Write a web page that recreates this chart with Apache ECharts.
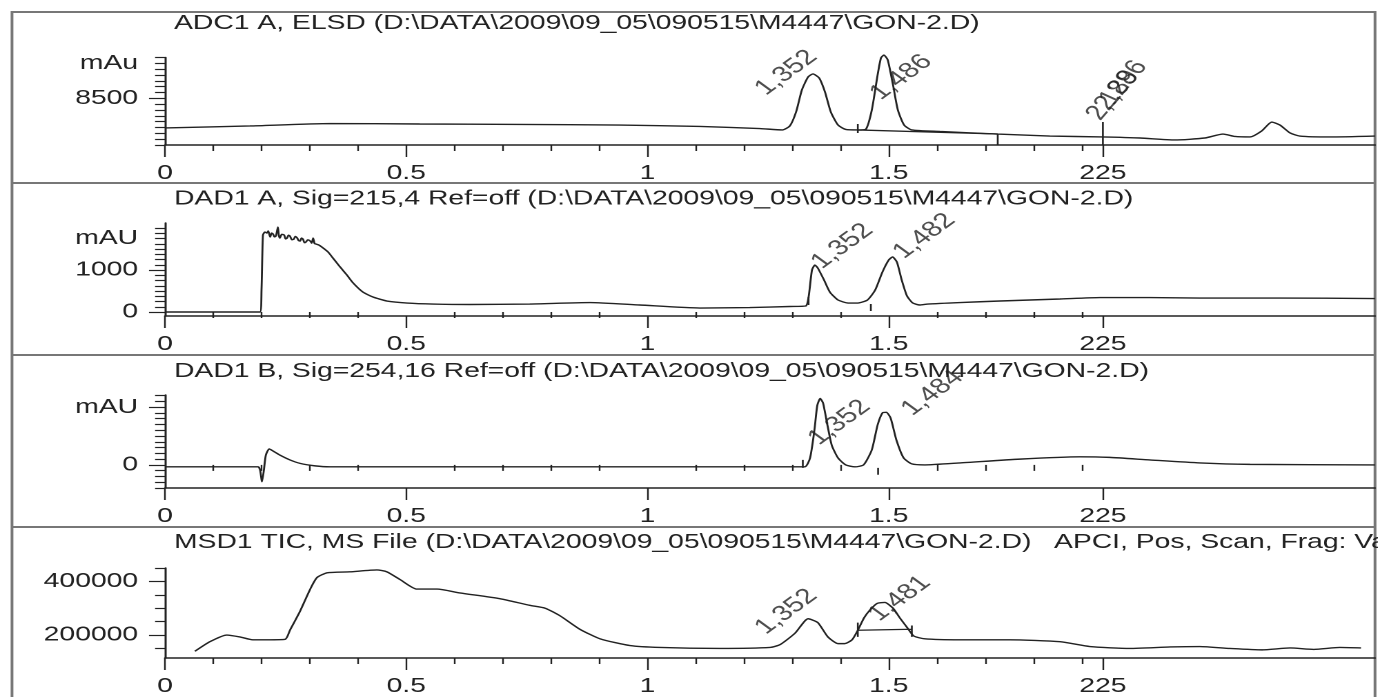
<!DOCTYPE html>
<html>
<head>
<meta charset="utf-8">
<title>GON-2.D chromatograms</title>
<script src="https://cdn.jsdelivr.net/npm/echarts@6.0.0/dist/echarts.min.js"></script>
<style>
  html, body { margin: 0; padding: 0; background: #fff; overflow: hidden; }
  /* the printout is stretched sideways, so draw narrow and widen with css */
  #chart { width: 998.55px; height: 697px; transform: scaleX(1.38); transform-origin: 0 0; }
</style>
</head>
<body>
<div id="chart"></div>
<script>
const STRETCH = 1.38;
const INK = "#222";
const FONT = "Liberation Sans, Arial, sans-serif";

// time axis (min)
const xMajorTicks = [0, 0.5, 1, 1.5, 1.944];
const xMajorLabels = ["0", "0.5", "1", "1.5", "225"];
const xMinorTicks = [0.1, 0.2, 0.3, 0.4, 0.6, 0.7, 0.8, 0.9, 1.1, 1.2, 1.3, 1.4, 1.6, 1.7, 1.8, 1.9];

const titles = [
  "ADC1 A, ELSD (D:\\DATA\\2009\\09_05\\090515\\M4447\\GON-2.D)",
  "DAD1 A, Sig=215,4 Ref=off (D:\\DATA\\2009\\09_05\\090515\\M4447\\GON-2.D)",
  "DAD1 B, Sig=254,16 Ref=off (D:\\DATA\\2009\\09_05\\090515\\M4447\\GON-2.D)",
  "MSD1 TIC, MS File (D:\\DATA\\2009\\09_05\\090515\\M4447\\GON-2.D)"
];
const msdExtra = "APCI, Pos, Scan, Frag: Var";

// y axis ranges and labels per panel
const yMin = [8100, -95, -40, 114300];
const yMax = [8850, 2120, 121, 450000];
const yLabelValues = [[8500, 8800], [0, 1000, 1750], [0, 100], [200000, 400000]];
const yLabelTexts = [["8500", "mAu"], ["0", "1000", "mAU"], ["0", "mAU"], ["200000", "400000"]];
const yMajorTicks = [[8500], [0, 1000], [0, 100], [200000, 400000]];
const yMinorStep = [50, 125, 10, 50000];
const yMinorStart = [8100, 0, -40, 150000];

// ADC1 A, ELSD
const elsd = [
  [0, 8246], [0.176, 8263], [0.342, 8284], [0.528, 8280], [0.736, 8276], [0.943, 8271],
  [1.109, 8259], [1.233, 8241], [1.279, 8229], [1.295, 8263], [1.308, 8383], [1.320, 8571],
  [1.333, 8683], [1.343, 8709], [1.356, 8674], [1.368, 8554], [1.380, 8383], [1.395, 8271],
  [1.411, 8233], [1.436, 8229], [1.453, 8237], [1.465, 8400], [1.477, 8700], [1.484, 8846],
  [1.490, 8871], [1.498, 8829], [1.509, 8614], [1.519, 8400], [1.532, 8271], [1.548, 8229],
  [1.606, 8216], [1.726, 8194], [1.834, 8177], [1.942, 8169], [2.021, 8160], [2.093, 8143],
  [2.155, 8160], [2.193, 8194], [2.218, 8173], [2.249, 8169], [2.273, 8220], [2.294, 8297],
  [2.311, 8271], [2.332, 8203], [2.352, 8177], [2.415, 8169], [2.508, 8177]
];
const elsdPeaks = [[1.256, 8490, "1,352", 45], [1.494, 8450, "1,486", 45], [1.951, 8280, "2,189", 58], [1.968, 8365, "2,286", 58]];
const elsdMarks = [[1.436, 8280], [1.436, 8203], null, [1.436, 8229], [1.726, 8194], null,
  [1.726, 8194], [1.726, 8100], null, [1.944, 8297], [1.944, 8100]];

// DAD1 A, 215 nm
const dadA = [
  [0, 0], [0.197, 0], [0.2, 524], [0.203, 1833], [0.207, 1905], [0.211, 1881], [0.214, 1930],
  [0.218, 1786], [0.221, 1880], [0.224, 1857], [0.227, 1790], [0.230, 1810], [0.234, 2024],
  [0.236, 1820], [0.238, 1762], [0.242, 1850], [0.247, 1833], [0.250, 1740], [0.253, 1762],
  [0.256, 1830], [0.259, 1810], [0.263, 1720], [0.267, 1738], [0.270, 1800], [0.274, 1762],
  [0.277, 1700], [0.280, 1690], [0.283, 1760], [0.286, 1738], [0.289, 1650], [0.292, 1667],
  [0.296, 1720], [0.301, 1690], [0.304, 1640], [0.307, 1762], [0.310, 1630], [0.313, 1619],
  [0.319, 1595], [0.325, 1548], [0.338, 1429], [0.348, 1286],
  [0.363, 1071], [0.377, 881], [0.390, 690], [0.410, 476], [0.431, 357], [0.460, 262],
  [0.502, 214], [0.555, 190], [0.632, 179], [0.756, 190], [0.881, 226], [0.984, 167],
  [1.109, 95], [1.212, 107], [1.295, 131], [1.328, 143], [1.334, 357], [1.341, 1000],
  [1.347, 1119], [1.353, 1048], [1.366, 762], [1.378, 476], [1.395, 286], [1.416, 214],
  [1.436, 214], [1.456, 286], [1.472, 524], [1.487, 952], [1.500, 1238], [1.508, 1310],
  [1.517, 1190], [1.527, 762], [1.538, 381], [1.550, 214], [1.565, 167], [1.581, 190],
  [1.648, 226], [1.731, 262], [1.855, 310], [1.938, 345], [2.041, 345], [2.145, 333],
  [2.311, 333], [2.508, 321]
];
const dadAPeaks = [[1.372, 930, "1,352", 45], [1.542, 1170, "1,482", 45]];
const dadAMarks = [[1.334, 357], [1.334, 167], null, [1.463, 190], [1.463, 24]];

// DAD1 B, 254 nm
const dadB = [
  [0, -3.4], [0.193, -3.4], [0.197, -8.6], [0.201, -29], [0.205, -8.6], [0.209, 17],
  [0.216, 27.6], [0.224, 24], [0.238, 17], [0.259, 8.6], [0.280, 2.6], [0.311, -1.7],
  [0.342, -3.4], [0.694, -3.4], [1.275, -3.4], [1.326, -3.4], [1.337, 12], [1.346, 60],
  [1.352, 103], [1.358, 115], [1.364, 107], [1.373, 69], [1.382, 34], [1.395, 12],
  [1.411, 0], [1.430, -3.4], [1.448, 0], [1.465, 26], [1.477, 69], [1.487, 90],
  [1.495, 91], [1.504, 81], [1.516, 43], [1.531, 12], [1.548, 1.7], [1.575, 0],
  [1.648, 3.4], [1.772, 10], [1.896, 14], [1.958, 13], [2.041, 8.6], [2.145, 3.4],
  [2.249, 0.9], [2.508, 0]
];
const dadBPeaks = [[1.366, 27, "1,352", 45], [1.559, 78, "1,484", 45]];
const dadBMarks = [[1.322, 8.6], [1.322, -5.2], null, [1.478, -5.2], [1.478, -17]];

// MSD1 TIC
const tic = [
  [0.062, 139300], [0.093, 175000], [0.128, 200000], [0.155, 192900], [0.182, 182100],
  [0.211, 182100], [0.249, 183900], [0.259, 217900], [0.280, 289300], [0.301, 371400],
  [0.315, 414300], [0.336, 432100], [0.383, 435700], [0.439, 442800], [0.460, 435700],
  [0.487, 407100], [0.522, 371400], [0.564, 371400], [0.611, 357100], [0.694, 335700],
  [0.756, 310700], [0.788, 300000], [0.819, 271400], [0.860, 221400], [0.902, 185700],
  [0.964, 160700], [1.026, 153600], [1.150, 150000], [1.254, 153600], [1.275, 164300],
  [1.306, 207100], [1.333, 260700], [1.353, 246400], [1.374, 192900], [1.395, 167900],
  [1.409, 167900], [1.424, 182100], [1.436, 217900], [1.449, 264300], [1.461, 292900],
  [1.476, 317900], [1.492, 321400], [1.509, 300000], [1.523, 264300], [1.538, 228600],
  [1.552, 196400], [1.575, 185700], [1.648, 182100], [1.751, 182100], [1.855, 175000],
  [1.917, 157100], [2.0, 150000], [2.083, 155400], [2.145, 157100], [2.207, 150000],
  [2.274, 144600], [2.332, 151800], [2.381, 146400], [2.435, 153600], [2.479, 151800]
];
const ticPeaks = [[1.256, 187000, "1,352", 45], [1.491, 236000, "1,481", 45]];
const ticMarks = [[1.436, 246400], [1.436, 192900], null, [1.436, 217900], [1.548, 221400],
  null, [1.548, 235700], [1.548, 192900]];

const curves = [elsd, dadA, dadB, tic];
const peaks = [elsdPeaks, dadAPeaks, dadBPeaks, ticPeaks];
const marks = [elsdMarks, dadAMarks, dadBMarks, ticMarks];

// panel layout, in page pixels
const gridTop = [57.5, 223, 395, 568];
const gridBottom = [145, 316, 488, 662];
const titleTop = [13, 188.5, 361, 532];
const plotLeft = 165 / STRETCH;
const plotRight = 1375 / STRETCH;
const X_MAX = 2.508;

function minorTicks(i) {
  const out = [];
  for (let v = yMinorStart[i]; v <= yMax[i]; v += yMinorStep[i]) {
    if (yMajorTicks[i].indexOf(v) < 0) out.push(v);
  }
  return out;
}

const textStyle = { fontSize: 20.5, fontWeight: "normal", color: INK, fontFamily: FONT };
const grid = [];
const xAxis = [];
const yAxis = [];
const series = [];
const title = [];

titles.forEach((text, i) => {
  grid.push({ left: plotLeft, width: plotRight - plotLeft, top: gridTop[i], height: gridBottom[i] - gridTop[i] });
  title.push({ text: text, left: 174 / STRETCH, top: titleTop[i], padding: 0, textStyle: textStyle });

  // long ticks with labels, then short ticks
  xAxis.push({
    type: "value", gridIndex: i, position: "bottom", min: 0, max: X_MAX,
    axisLine: { onZero: false, lineStyle: { color: INK, width: 1.5 } },
    axisTick: { customValues: xMajorTicks, length: 12, lineStyle: { color: INK, width: 1.2 } },
    axisLabel: {
      customValues: xMajorTicks, margin: 18, fontSize: 20.5, color: INK, fontFamily: FONT,
      formatter: (v) => xMajorLabels[xMajorTicks.findIndex((m) => Math.abs(m - v) < 1e-6)]
    },
    splitLine: { show: false }
  });
  xAxis.push({
    type: "value", gridIndex: i, position: "bottom", min: 0, max: X_MAX,
    axisLine: { show: false },
    axisTick: { customValues: xMinorTicks, length: 6, lineStyle: { color: INK, width: 1.2 } },
    axisLabel: { show: false },
    splitLine: { show: false }
  });

  yAxis.push({
    type: "value", gridIndex: i, position: "left", min: yMin[i], max: yMax[i],
    axisLine: { onZero: false, lineStyle: { color: INK, width: 1.5 } },
    axisTick: { customValues: yMajorTicks[i], length: 11.6, lineStyle: { color: INK, width: 1.2 } },
    axisLabel: {
      customValues: yLabelValues[i], margin: 19.5, fontSize: 20.5, color: INK, fontFamily: FONT,
      formatter: (v) => yLabelTexts[i][yLabelValues[i].indexOf(v)]
    },
    splitLine: { show: false }
  });
  yAxis.push({
    type: "value", gridIndex: i, position: "left", min: yMin[i], max: yMax[i],
    axisLine: { show: false },
    axisTick: { customValues: minorTicks(i), length: 7.2, lineStyle: { color: INK, width: 1.2 } },
    axisLabel: { show: false },
    splitLine: { show: false }
  });

  const axes = { xAxisIndex: 2 * i, yAxisIndex: 2 * i };
  series.push(Object.assign({
    type: "line", data: curves[i], symbol: "none", clip: false, smooth: 0.2,
    lineStyle: { color: INK, width: 1.4 }
  }, axes));
  series.push(Object.assign({
    type: "line", data: marks[i], symbol: "none", clip: false, connectNulls: false,
    lineStyle: { color: INK, width: 1.3 }
  }, axes));
  series.push(Object.assign({
    type: "scatter", symbolSize: 0.1, clip: false, itemStyle: { color: "rgba(0,0,0,0)" },
    label: {
      show: true, position: [0, 0], align: "left", verticalAlign: "bottom",
      fontSize: 21.5, color: INK, fontFamily: FONT
    },
    data: peaks[i].map((p) => ({ value: [p[0], p[1]], label: { formatter: p[2], rotate: p[3] } }))
  }, axes));
});

title.push({ text: msdExtra, left: 1054 / STRETCH, top: titleTop[3], padding: 0, textStyle: textStyle });

// outer frame and panel separators
const frameLeft = 12 / STRETCH;
const frameRight = 1375 / STRETCH;
const frame = [{
  type: "rect", silent: true,
  shape: { x: frameLeft, y: 12, width: frameRight - frameLeft, height: 700 },
  style: { fill: null, stroke: "#777", lineWidth: 2 }
}];
[183, 355, 527].forEach((y) => {
  frame.push({
    type: "line", silent: true,
    shape: { x1: frameLeft, y1: y, x2: frameRight, y2: y },
    style: { stroke: "#777", lineWidth: 2 }
  });
});

const chart = echarts.init(document.getElementById("chart"), null, { devicePixelRatio: 2 });
chart.setOption({
  animation: false,
  backgroundColor: "#fff",
  title: title,
  grid: grid,
  xAxis: xAxis,
  yAxis: yAxis,
  series: series,
  graphic: frame
});
</script>
</body>
</html>
